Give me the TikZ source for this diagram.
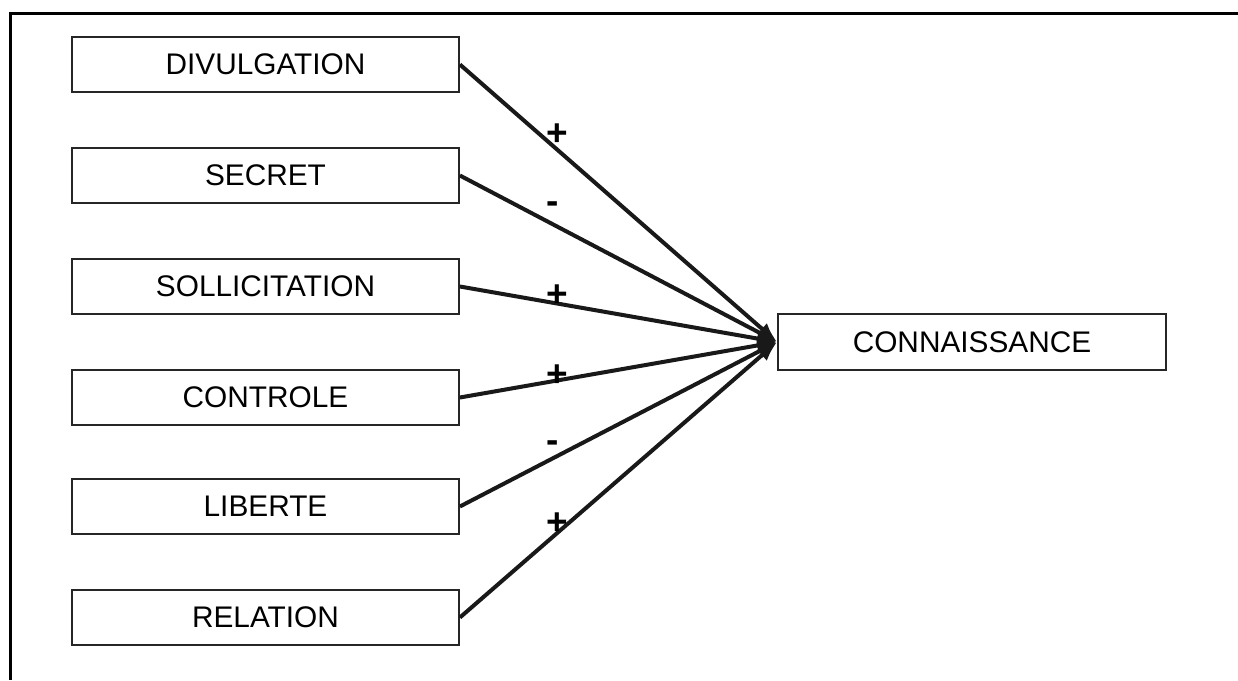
\documentclass[tikz,border=0pt]{standalone}
\usepackage{fontspec}
\setmainfont{Liberation Sans}
\usetikzlibrary{arrows.meta}
\begin{document}
\begin{tikzpicture}[x=1pt,y=-1pt,
  box/.style={draw=black!85,line width=1.8pt,fill=white,minimum width=387pt,minimum height=55pt,inner sep=0pt,font=\fontsize{29.8}{32}\selectfont},
  conn/.style={line width=4pt,draw=black!90,-{Latex[length=20pt,width=15pt]}},
  sign/.style={inner sep=0pt,anchor=center,font=\bfseries\fontsize{37}{40}\selectfont}]
\useasboundingbox (0,0) rectangle (1238,680);
\draw[line width=3pt] (10.8,680) -- (10.8,13) -- (1238,13);
\node[box] (d) at (265.5,64.5) {DIVULGATION};
\node[box] (s) at (265.5,175.5) {SECRET};
\node[box] (so) at (265.5,286.5) {SOLLICITATION};
\node[box] (c) at (265.5,397.5) {CONTROLE};
\node[box] (l) at (265.5,506.5) {LIBERTE};
\node[box] (r) at (265.5,617.5) {RELATION};
\node[box,minimum width=388pt,minimum height=56pt] (k) at (972,342) {CONNAISSANCE};
\foreach \n in {d,s,so,c,l,r} \draw[conn] (\n.east) -- (k.west);
\node[sign] (p1) at (557,135) {+};
\node[sign] (m1) at (553,208) {-};
\node[sign] (p2) at (557,296) {+};
\node[sign] (p3) at (557,376) {+};
\node[sign] (m2) at (553,447) {-};
\node[sign] (p4) at (557,524) {+};
\end{tikzpicture}
\end{document}
